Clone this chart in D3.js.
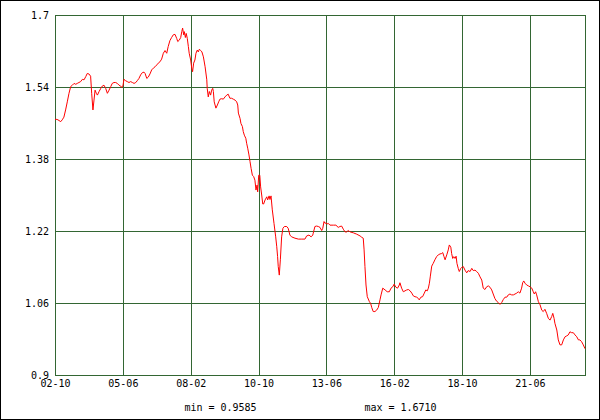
<!DOCTYPE html>
<html>
<head>
<meta charset="utf-8">
<script src="https://cdn.jsdelivr.net/npm/d3@7"></script>
<style>
  html, body { margin: 0; padding: 0; background: #fff; }
  svg { display: block; }
  text { font-family: "DejaVu Sans Mono", "Liberation Mono", monospace; font-size: 10px; fill: #000; }
</style>
</head>
<body>
<div id="chart"></div>
<script>
// months since 2002-10, value
const series = [
[0.0,1.468],[0.9,1.468],[1.4,1.467],[2.7,1.463],[3.4,1.467],[4.2,1.473],[5.0,1.489],[5.8,1.507],[6.6,1.526],[7.4,1.541],
[8.2,1.544],[9.0,1.548],[9.8,1.546],[10.5,1.548],[11.3,1.550],[12.1,1.552],[12.9,1.557],[13.7,1.556],[14.5,1.563],[15.2,1.570],
[16.0,1.569],[16.8,1.564],[17.3,1.526],[17.9,1.489],[18.4,1.511],[18.9,1.533],[19.5,1.526],[20.0,1.522],[20.8,1.530],[21.6,1.537],
[22.3,1.542],[23.1,1.544],[23.9,1.537],[24.7,1.526],[25.5,1.533],[26.3,1.541],[27.0,1.548],[27.8,1.550],[28.6,1.550],[29.4,1.548],
[30.2,1.544],[31.0,1.542],[31.5,1.539],[32.1,1.544],[32.5,1.557],[33.3,1.554],[34.1,1.552],[34.9,1.550],[35.7,1.552],[36.5,1.550],
[37.3,1.548],[38.1,1.550],[38.8,1.554],[39.6,1.559],[40.4,1.567],[41.2,1.572],[42.0,1.573],[42.5,1.570],[43.3,1.559],[44.0,1.562],
[44.8,1.569],[45.6,1.578],[46.4,1.582],[47.2,1.585],[48.0,1.589],[48.7,1.593],[49.5,1.596],[50.3,1.602],[51.1,1.615],[51.9,1.621],
[52.7,1.615],[53.4,1.630],[54.2,1.643],[55.0,1.650],[55.8,1.656],[56.6,1.657],[57.4,1.648],[57.9,1.641],[58.6,1.644],[59.3,1.650],
[59.8,1.663],[60.2,1.671],[60.7,1.656],[61.0,1.663],[61.5,1.650],[61.9,1.659],[62.4,1.648],[62.9,1.630],[63.3,1.615],[64.0,1.600],
[64.5,1.582],[64.9,1.574],[65.4,1.593],[66.0,1.600],[66.5,1.615],[67.1,1.622],[67.6,1.618],[68.1,1.624],[68.7,1.621],[69.3,1.618],
[70.0,1.607],[70.8,1.585],[71.6,1.556],[71.8,1.537],[72.3,1.518],[72.8,1.530],[73.4,1.522],[73.9,1.533],[74.4,1.537],[74.7,1.530],
[75.1,1.507],[75.9,1.493],[76.6,1.500],[77.2,1.507],[77.8,1.513],[78.6,1.514],[79.4,1.513],[80.2,1.518],[81.0,1.522],[81.7,1.524],
[82.5,1.515],[83.3,1.515],[84.1,1.513],[84.9,1.511],[85.7,1.507],[86.2,1.500],[86.5,1.482],[87.3,1.470],[87.7,1.459],[88.4,1.452],
[88.8,1.441],[89.3,1.433],[90.0,1.426],[90.4,1.415],[90.9,1.404],[91.5,1.389],[92.0,1.374],[92.5,1.359],[93.1,1.344],[93.7,1.341],
[94.3,1.333],[94.8,1.311],[95.3,1.322],[95.6,1.307],[96.1,1.344],[96.6,1.344],[97.0,1.318],[97.5,1.300],[98.0,1.280],[98.4,1.280],
[99.1,1.289],[99.9,1.296],[100.3,1.289],[101.0,1.298],[101.4,1.290],[101.9,1.298],[102.5,1.267],[103.3,1.237],[104.1,1.207],[104.6,1.185],
[105.0,1.163],[105.3,1.141],[105.8,1.122],[106.3,1.156],[106.9,1.207],[107.5,1.226],[108.2,1.230],[109.3,1.230],[110.0,1.226],[110.8,1.211],
[111.6,1.207],[113.2,1.204],[114.8,1.202],[116.4,1.202],[117.9,1.202],[118.7,1.209],[119.8,1.211],[120.8,1.207],[121.6,1.211],[121.8,1.215],
[122.6,1.230],[123.4,1.231],[124.2,1.230],[125.0,1.228],[125.8,1.221],[126.3,1.226],[126.9,1.241],[127.4,1.237],[127.8,1.238],[128.4,1.236],
[128.9,1.237],[129.7,1.233],[131.3,1.233],[132.5,1.233],[133.6,1.228],[134.4,1.230],[135.2,1.231],[136.0,1.224],[136.8,1.218],[137.6,1.218],
[138.3,1.221],[139.2,1.218],[140.7,1.216],[142.3,1.213],[143.9,1.209],[144.7,1.206],[145.4,1.204],[145.8,1.178],[146.2,1.141],[146.7,1.100],
[147.3,1.074],[148.3,1.063],[148.9,1.059],[149.4,1.050],[150.1,1.041],[150.9,1.041],[151.7,1.044],[152.5,1.050],[153.3,1.067],[153.8,1.078],
[154.6,1.093],[155.7,1.089],[156.7,1.085],[157.7,1.085],[158.5,1.093],[159.3,1.096],[160.0,1.102],[160.8,1.095],[161.6,1.093],[162.4,1.100],
[162.7,1.105],[163.5,1.093],[164.3,1.085],[165.1,1.087],[165.9,1.089],[166.7,1.090],[167.5,1.087],[168.3,1.082],[169.0,1.076],[169.8,1.074],
[170.6,1.073],[171.4,1.070],[171.8,1.067],[172.6,1.073],[173.4,1.074],[174.2,1.082],[174.9,1.089],[175.6,1.087],[176.1,1.093],[176.6,1.104],
[177.0,1.118],[177.7,1.142],[178.4,1.148],[179.2,1.156],[180.0,1.163],[180.8,1.167],[181.6,1.169],[182.4,1.170],[182.9,1.172],[183.5,1.163],
[184.0,1.156],[184.8,1.167],[185.5,1.178],[186.0,1.189],[186.7,1.184],[187.1,1.170],[187.6,1.159],[188.1,1.163],[188.7,1.159],[189.2,1.164],
[189.6,1.148],[190.2,1.137],[190.7,1.130],[191.4,1.137],[191.8,1.139],[192.6,1.141],[193.4,1.133],[194.2,1.127],[194.9,1.132],[195.8,1.130],
[196.6,1.137],[197.3,1.132],[198.1,1.133],[198.9,1.130],[199.7,1.126],[200.5,1.118],[201.3,1.111],[202.0,1.093],[202.8,1.090],[203.6,1.096],
[204.4,1.098],[205.2,1.095],[206.0,1.089],[206.7,1.080],[207.5,1.070],[208.3,1.064],[209.1,1.061],[209.9,1.057],[210.7,1.061],[211.5,1.068],
[212.3,1.073],[213.1,1.073],[213.8,1.078],[214.6,1.080],[215.4,1.078],[216.2,1.078],[217.0,1.080],[217.8,1.082],[218.5,1.085],[219.3,1.082],
[220.1,1.093],[220.6,1.105],[221.1,1.109],[221.7,1.104],[222.5,1.100],[223.3,1.098],[224.1,1.096],[224.9,1.093],[225.6,1.085],[226.1,1.080],
[226.7,1.085],[227.2,1.078],[228.0,1.063],[228.8,1.056],[229.6,1.044],[230.3,1.041],[231.1,1.046],[231.9,1.037],[232.7,1.026],[233.5,1.022],
[234.3,1.030],[234.8,1.037],[235.4,1.026],[235.8,1.015],[236.7,1.000],[237.4,0.978],[238.2,0.967],[239.0,0.967],[239.8,0.978],[240.6,0.985],
[241.4,0.987],[242.1,0.989],[242.9,0.996],[243.7,0.994],[244.5,0.994],[245.3,0.989],[246.1,0.985],[246.9,0.978],[247.6,0.978],[248.4,0.974],
[249.2,0.967],[250.0,0.9585]
];
const xTickMonths = [0, 32, 64, 96, 128, 160, 192, 224];
const xTickLabels = ["02-10", "05-06", "08-02", "10-10", "13-06", "16-02", "18-10", "21-06"];
const yTicks = [0.9, 1.06, 1.22, 1.38, 1.54, 1.7];
const yDomain = [0.9, 1.7];
const xDomain = [0, 250];

const W = 600, H = 420;
const mL = 55, mR = 585, mT = 15, mB = 375;
const gridColor = "#336633";

const svg = d3.select("#chart").append("svg").attr("width", W).attr("height", H);

svg.append("rect").attr("x", 0.5).attr("y", 0.5).attr("width", W - 1).attr("height", H - 1)
  .attr("fill", "#fff").attr("stroke", "#000").attr("stroke-width", 1);

const x = d3.scaleLinear().domain(xDomain).range([mL, mR]);
const y = d3.scaleLinear().domain(yDomain).range([mB, mT]);

const xAxis = d3.axisBottom(x).tickValues(xTickMonths)
  .tickFormat((d, i) => xTickLabels[i]).tickSize(-(mB - mT)).tickPadding(5);
const gx = svg.append("g").attr("transform", `translate(0,${mB})`).call(xAxis);
gx.select(".domain").remove();
gx.selectAll("line").attr("stroke", gridColor).attr("shape-rendering", "crispEdges");
gx.selectAll("text").attr("font-family", null).attr("font-size", null);
gx.attr("font-family", null).attr("font-size", null);

const yAxis = d3.axisLeft(y).tickValues(yTicks).tickFormat(d => String(d))
  .tickSize(-(mR - mL)).tickPadding(6);
const gy = svg.append("g").attr("transform", `translate(${mL},0)`).call(yAxis);
gy.select(".domain").remove();
gy.selectAll("line").attr("stroke", gridColor).attr("shape-rendering", "crispEdges");
gy.selectAll("text").attr("dy", "0.37em");
gy.attr("font-family", null).attr("font-size", null);

svg.append("rect").attr("x", mL).attr("y", mT).attr("width", mR - mL).attr("height", mB - mT)
  .attr("fill", "none").attr("stroke", gridColor).attr("shape-rendering", "crispEdges");

const line = d3.line().x(d => x(d[0])).y(d => y(d[1]));
svg.append("path").datum(series).attr("d", line)
  .attr("fill", "none").attr("stroke", "#ff0000").attr("stroke-width", 1)
  .attr("stroke-linejoin", "round");

const fmt = d3.format(".4f");
const vmin = d3.min(series, d => d[1]), vmax = d3.max(series, d => d[1]);
svg.append("text").attr("x", 220.5).attr("y", 410.5).attr("text-anchor", "middle").text(`min = ${fmt(vmin)}`);
svg.append("text").attr("x", 400.5).attr("y", 410.5).attr("text-anchor", "middle").text(`max = ${fmt(vmax)}`);
</script>
</body>
</html>
